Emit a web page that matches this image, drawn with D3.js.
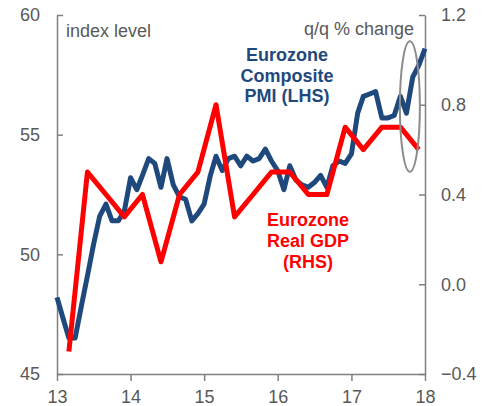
<!DOCTYPE html>
<html>
<head>
<meta charset="utf-8">
<script src="https://cdn.jsdelivr.net/npm/d3@7"></script>
<style>
  html, body { margin: 0; padding: 0; background: #fff; }
  svg { display: block; }
  text { font-family: "Liberation Sans", Arial, sans-serif; }
</style>
</head>
<body>
<svg id="chart" width="485" height="406"></svg>
<script>
// ---- Data ----
// Eurozone Composite PMI, monthly Jan 2013 .. Jan 2018 (index level, LHS)
const pmiStart = new Date(2013, 0, 1);
const pmiValues = [
  48.2, 47.3, 46.5, 46.5, 47.8, 49.1, 50.4, 51.6, 52.1, 51.4, 51.4, 51.8,
  53.2, 52.7, 53.3, 54.0, 53.8, 52.8, 54.0, 52.9, 52.4, 52.3, 51.4, 51.7,
  52.1, 53.3, 54.1, 53.5, 54.0, 54.1, 53.7, 54.1, 53.9, 54.0, 54.4, 53.9,
  53.5, 52.7, 53.7, 53.1, 52.9, 52.8, 53.0, 53.3, 52.8, 53.7, 53.9, 53.8,
  54.2, 55.9, 56.6, 56.7, 56.8, 55.7, 55.7, 55.8, 56.6, 55.9, 57.4, 57.9,
  58.6
];
// Eurozone Real GDP, q/q % change (RHS), plotted at quarter-end month
const gdpQuarters = [
  "2013-03", "2013-06", "2013-09", "2013-12",
  "2014-03", "2014-06", "2014-09", "2014-12",
  "2015-03", "2015-06", "2015-09", "2015-12",
  "2016-03", "2016-06", "2016-09", "2016-12",
  "2017-03", "2017-06", "2017-09", "2017-12"
];
const gdpValues = [
  -0.3, 0.5, 0.4, 0.3,
   0.4, 0.1, 0.4, 0.5,
   0.8, 0.3, 0.4, 0.5,
   0.5, 0.4, 0.4, 0.7,
   0.6, 0.7, 0.7, 0.6
];
const xTickYears = [2013, 2014, 2015, 2016, 2017, 2018];
const leftTicks = [45, 50, 55, 60];
const rightTicks = [-0.4, 0.0, 0.4, 0.8, 1.2];
const pmiLabel = ["Eurozone", "Composite", "PMI (LHS)"];
const gdpLabel = ["Eurozone", "Real GDP", "(RHS)"];
// highlight ellipse: centre date and PMI span it covers
const ellipseDate = "2017-10-18";
const ellipseSpan = [53.45, 58.9];

// ---- Build ----
const svg = d3.select("#chart");
const plot = { left: 57, right: 425, top: 15, bottom: 374 };
const blue = "#1F497D", red = "#FF0000", axisGrey = "#808080", textGrey = "#595959";

const parseQ = d3.timeParse("%Y-%m");
const pmiData = pmiValues.map((v, i) => ({ date: d3.timeMonth.offset(pmiStart, i), value: v }));
const gdpData = gdpValues.map((v, i) => ({ date: parseQ(gdpQuarters[i]), value: v }));

const x = d3.scaleTime()
  .domain([new Date(2013, 0, 1), new Date(2018, 0, 1)])
  .range([plot.left, plot.right]);
const yL = d3.scaleLinear().domain([45, 60]).range([plot.bottom, plot.top]);
const yR = d3.scaleLinear().domain([-0.4, 1.2]).range([plot.bottom, plot.top]);

function styleAxis(g) {
  g.select(".domain").attr("stroke", axisGrey).attr("stroke-width", 1.5);
  g.selectAll(".tick line").attr("stroke", axisGrey).attr("stroke-width", 1.5);
  g.selectAll(".tick text").attr("fill", textGrey).style("font-size", "18px")
    .style("font-family", "'Liberation Sans', Arial, sans-serif");
}

// Left axis
svg.append("g")
  .attr("transform", `translate(${plot.left},0)`)
  .call(d3.axisLeft(yL).tickValues(leftTicks).tickFormat(d3.format("d"))
    .tickSizeInner(-6).tickSizeOuter(0).tickPadding(17))
  .call(styleAxis);

// Right axis
svg.append("g")
  .attr("transform", `translate(${plot.right},0)`)
  .call(d3.axisRight(yR).tickValues(rightTicks).tickFormat(d3.format(".1f"))
    .tickSizeInner(-6).tickSizeOuter(0).tickPadding(16))
  .call(styleAxis);

// Bottom axis
svg.append("g")
  .attr("transform", `translate(0,${plot.bottom})`)
  .call(d3.axisBottom(x).tickValues(xTickYears.map(yr => new Date(yr, 0, 1)))
    .tickFormat(d3.timeFormat("%y")).tickSizeInner(7).tickSizeOuter(0).tickPadding(9))
  .call(styleAxis);

// Lines
const pmiLine = d3.line().x(d => x(d.date)).y(d => yL(d.value));
const gdpLine = d3.line().x(d => x(d.date)).y(d => yR(d.value));

svg.append("path").datum(pmiData)
  .attr("d", pmiLine).attr("fill", "none").attr("stroke", blue)
  .attr("stroke-width", 5).attr("stroke-linejoin", "round").attr("stroke-linecap", "butt");

svg.append("path").datum(gdpData)
  .attr("d", gdpLine).attr("fill", "none").attr("stroke", red)
  .attr("stroke-width", 5).attr("stroke-linejoin", "round").attr("stroke-linecap", "butt");

// Highlight ellipse around latest PMI readings
const ellCx = x(d3.timeParse("%Y-%m-%d")(ellipseDate));
svg.append("ellipse")
  .attr("cx", ellCx).attr("cy", (yL(ellipseSpan[0]) + yL(ellipseSpan[1])) / 2)
  .attr("rx", 10).attr("ry", (yL(ellipseSpan[0]) - yL(ellipseSpan[1])) / 2)
  .attr("fill", "none").attr("stroke", "#8c8c8c").attr("stroke-width", 2);

// Axis titles
svg.append("text").attr("x", 66).attr("y", 37).attr("fill", textGrey)
  .style("font-size", "18px").text("index level");
svg.append("text").attr("x", 414).attr("y", 35).attr("fill", textGrey)
  .attr("text-anchor", "end").style("font-size", "18px").text("q/q % change");

// Series labels
const pl = svg.append("text").attr("text-anchor", "middle").attr("fill", blue)
  .style("font-size", "18px").style("font-weight", "bold");
pmiLabel.forEach((t, i) => pl.append("tspan").attr("x", 287).attr("y", 61 + i * 20.5).text(t));

const gl = svg.append("text").attr("text-anchor", "middle").attr("fill", red)
  .style("font-size", "18px").style("font-weight", "bold");
gdpLabel.forEach((t, i) => gl.append("tspan").attr("x", 308).attr("y", 226 + i * 21).text(t));
</script>
</body>
</html>
